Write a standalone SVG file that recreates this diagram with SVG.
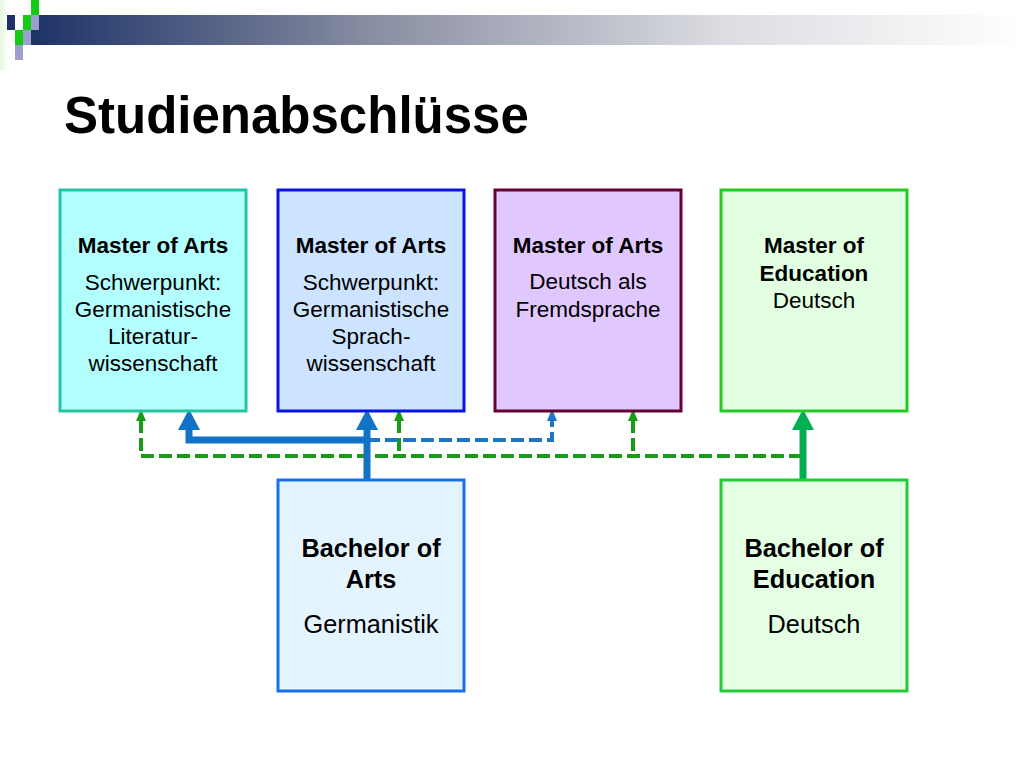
<svg xmlns="http://www.w3.org/2000/svg" width="1024" height="768" viewBox="0 0 1024 768">
<defs>
<linearGradient id="bar" x1="0" y1="0" x2="1" y2="0">
<stop offset="0" stop-color="#1c3266"/>
<stop offset="0.35" stop-color="#8a8fa3"/>
<stop offset="0.7" stop-color="#dcdde2"/>
<stop offset="1" stop-color="#ffffff"/>
</linearGradient>
<linearGradient id="edge" x1="0" y1="0" x2="1" y2="0">
<stop offset="0" stop-color="#e2f8dc"/>
<stop offset="1" stop-color="#ffffff"/>
</linearGradient>
<style>
.t{font-family:"Liberation Sans",Arial,sans-serif;text-anchor:middle;fill:#000}
.b{font-weight:bold}
.s{font-size:22.5px}
.l{font-size:25.3px}
.box{stroke-width:3}
.thick{fill:none;stroke-width:7}
.dash{fill:none;stroke-width:4;stroke-dasharray:13 5}
</style>
</defs>
<rect width="1024" height="768" fill="#fff"/>
<g id="header">
<rect x="0" y="0" width="8" height="70" fill="url(#edge)"/>
<rect x="31" y="15" width="993" height="30" fill="url(#bar)"/>
<rect x="7" y="15" width="8" height="15" fill="#1c3266"/>
<rect x="23" y="15" width="8" height="15" fill="#11cc11"/>
<rect x="31" y="15" width="8" height="15" fill="#9c9fcc"/>
<rect x="31" y="0" width="8" height="15" fill="#11cc11"/>
<rect x="15" y="30" width="8" height="15" fill="#11cc11"/>
<rect x="23" y="30" width="8" height="15" fill="#9c9fcc"/>
<rect x="15" y="45" width="8" height="15" fill="#9c9fcc"/>
</g>
<text class="t b" x="64" y="133" style="text-anchor:start;font-size:51px">Studienabschlüsse</text>

<g id="connectors">
<path class="dash" stroke="#1a9a1a" d="M141,420 V456 H800 M399,420 V456 M633,420 V456"/>
<path class="dash" stroke="#1f74c4" d="M367,440 H552 V420"/>
<path class="thick" stroke="#1172c6" d="M367,479 V428 M367,440 H189 V428"/>
<path class="thick" stroke="#00b050" d="M803,479 V428"/>
<polygon points="189,409 178,430 200,430" fill="#1172c6"/>
<polygon points="367,409 356,430 378,430" fill="#1172c6"/>
<polygon points="803,409 792,430 814,430" fill="#00b050"/>
<polygon points="552,409 547,421 557,421" fill="#1f74c4"/>
<polygon points="141,409 136,421 146,421" fill="#1a9a1a"/>
<polygon points="399,409 394,421 404,421" fill="#1a9a1a"/>
<polygon points="633,409 628,421 638,421" fill="#1a9a1a"/>
</g>

<g id="ma-literatur">
<rect class="box" x="60" y="190" width="186" height="221" fill="#b3ffff" stroke="#22c7a0"/>
<text class="t b s" x="153" y="253">Master of Arts</text>
<text class="t s" x="153" y="290">Schwerpunkt:</text>
<text class="t s" x="153" y="317">Germanistische</text>
<text class="t s" x="153" y="344">Literatur-</text>
<text class="t s" x="153" y="371">wissenschaft</text>
</g>
<g id="ma-sprach">
<rect class="box" x="278" y="190" width="186" height="221" fill="#cce4ff" stroke="#0a14e0"/>
<text class="t b s" x="371" y="253">Master of Arts</text>
<text class="t s" x="371" y="290">Schwerpunkt:</text>
<text class="t s" x="371" y="317">Germanistische</text>
<text class="t s" x="371" y="344">Sprach-</text>
<text class="t s" x="371" y="371">wissenschaft</text>
</g>
<g id="ma-daf">
<rect class="box" x="495" y="190" width="186" height="221" fill="#e0c8ff" stroke="#660033"/>
<text class="t b s" x="588" y="253">Master of Arts</text>
<text class="t s" x="588" y="289">Deutsch als</text>
<text class="t s" x="588" y="317">Fremdsprache</text>
</g>
<g id="med">
<rect class="box" x="721" y="190" width="186" height="221" fill="#e2ffe2" stroke="#22cc22"/>
<text class="t b s" x="814" y="253">Master of</text>
<text class="t b s" x="814" y="281">Education</text>
<text class="t s" x="814" y="308">Deutsch</text>
</g>
<g id="ba">
<rect class="box" x="278" y="480" width="186" height="211" fill="#e4f4ff" stroke="#1a70e8"/>
<text class="t b l" x="371" y="557">Bachelor of</text>
<text class="t b l" x="371" y="588">Arts</text>
<text class="t l" x="371" y="633">Germanistik</text>
</g>
<g id="bed">
<rect class="box" x="721" y="480" width="186" height="211" fill="#e4ffe4" stroke="#22cc33"/>
<text class="t b l" x="814" y="557">Bachelor of</text>
<text class="t b l" x="814" y="588">Education</text>
<text class="t l" x="814" y="633">Deutsch</text>
</g>
</svg>
